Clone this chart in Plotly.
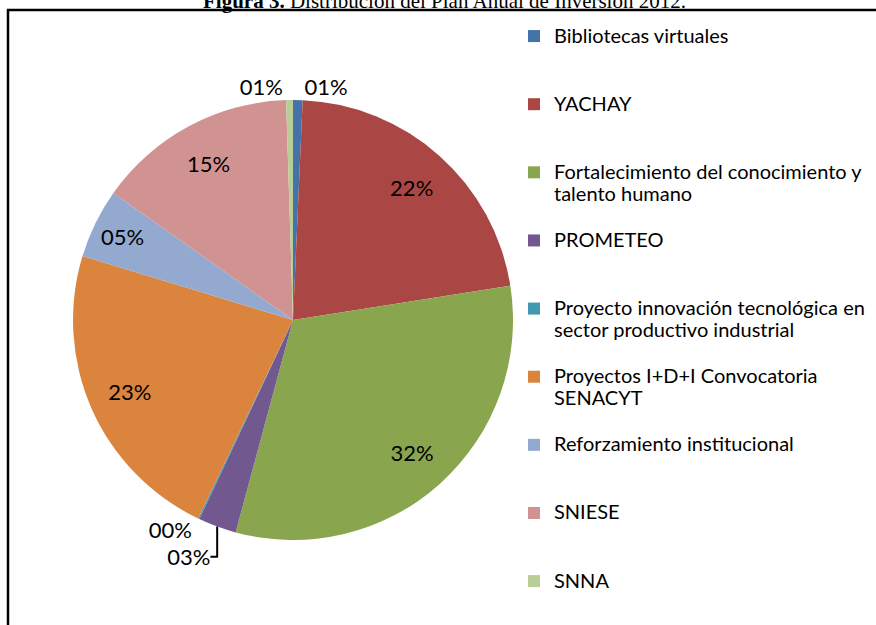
import plotly.graph_objects as go

W, H = 876, 625

categories = [
    "Bibliotecas virtuales",
    "YACHAY",
    "Fortalecimiento del conocimiento y<br>talento humano",
    "PROMETEO",
    "Proyecto innovación tecnológica en<br>sector productivo industrial",
    "Proyectos I+D+I Convocatoria<br>SENACYT",
    "Reforzamiento institucional",
    "SNIESE",
    "SNNA",
]
values = [0.7, 21.8, 31.7, 2.8, 0.1, 22.6, 5.1, 14.7, 0.5]
colors = ["#4572A7", "#AA4643", "#89A54E", "#71588F", "#4198AF",
          "#DB843D", "#93A9CF", "#D19392", "#B9CD96"]
text_positions = ["outside", "inside", "inside", "outside", "outside",
                  "inside", "inside", "inside", "outside"]

title_text = "<b>Figura 3.</b> Distribución del Plan Anual de Inversión 2012."

LEG_FS = 20
NB = "\u00a0"


def legend_label(c):
    parts = c.split("<br>")
    if len(parts) == 1:
        parts = [NB, parts[0], NB]
    else:
        parts = [NB] + parts
    return "<br>".join('<span style="font-size:%dpx">%s</span>' % (LEG_FS, p) for p in parts)


labels = [legend_label(c) for c in categories]


def px(x):
    return x / W


def py(y):
    return 1 - y / H


pie_domain = dict(x=[px(73), px(513)], y=[py(540), py(100)])

# coloured slices (legend)
fig = go.Figure(go.Pie(
    labels=labels,
    values=values,
    sort=False,
    direction="clockwise",
    rotation=0,
    marker=dict(colors=colors, line=dict(width=0)),
    textinfo="none",
    hoverinfo="label+percent",
    domain=pie_domain,
))

# percentage labels (same data, transparent ring so labels sit near the rim)
fig.add_trace(go.Pie(
    labels=labels,
    values=values,
    sort=False,
    direction="clockwise",
    rotation=0,
    hole=0.62,
    marker=dict(colors=["rgba(0,0,0,0)"] * len(values), line=dict(width=0)),
    texttemplate="%{percent:03.0%}",
    textposition=text_positions,
    insidetextorientation="horizontal",
    textfont=dict(family="Lato", size=22, color="black"),
    hoverinfo="skip",
    showlegend=False,
    domain=pie_domain,
))

fig.update_layout(
    width=W, height=H,
    margin=dict(l=0, r=0, t=0, b=0, autoexpand=False),
    paper_bgcolor="white",
    plot_bgcolor="white",
    font=dict(family="Lato", color="black"),
    showlegend=True,
    legend=dict(
        x=px(514), y=1 + 3 / H, xanchor="left", yanchor="top",
        font=dict(family="Lato", size=16.7, color="black"),
        bgcolor="rgba(0,0,0,0)",
        traceorder="normal",
        maxheight=700,
    ),
    shapes=[dict(type="rect", xref="paper", yref="paper",
                 x0=px(8), x1=px(W + 50), y0=py(H + 50), y1=py(10),
                 line=dict(color="black", width=2.5), fillcolor="rgba(0,0,0,0)")],
    annotations=[dict(text=title_text, xref="paper", yref="paper",
                      x=px(445), y=py(15), xanchor="center", yanchor="bottom",
                      showarrow=False,
                      font=dict(family="Liberation Serif", size=21, color="black"))],
)

fig.write_html("out.html", config={"displayModeBar": False},
               post_script="document.body.style.margin='0';")
